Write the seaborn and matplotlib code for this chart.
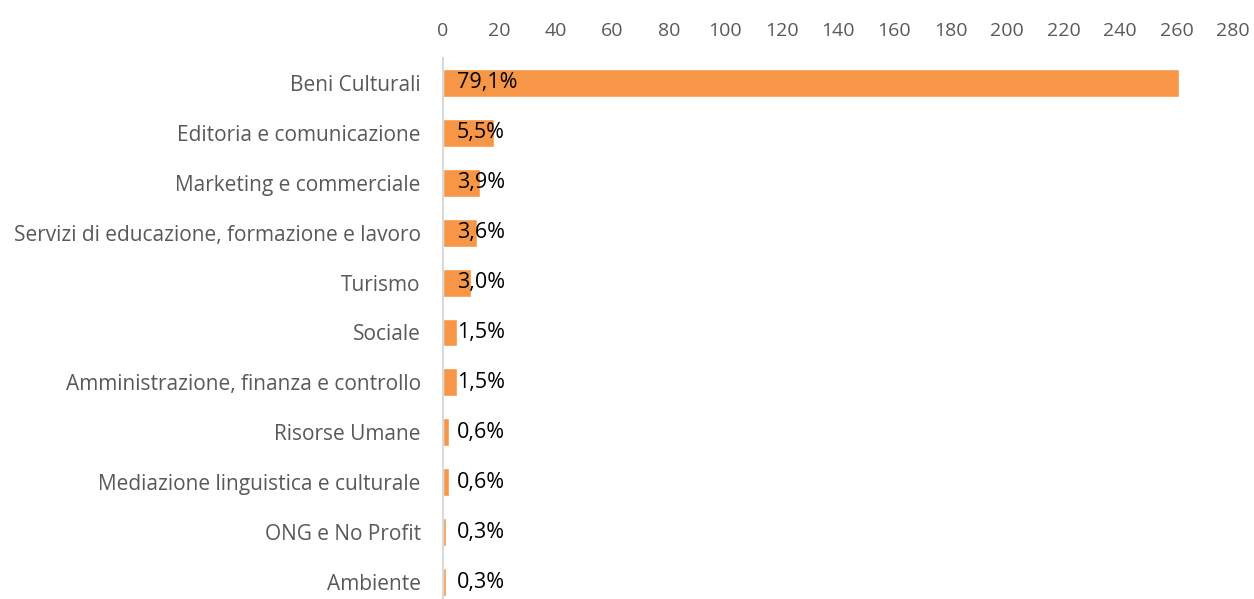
import matplotlib
matplotlib.use("Agg")
import matplotlib.pyplot as plt
import seaborn as sns
import pandas as pd

# data (counts, total 330)
categories = ["Beni Culturali", "Editoria e comunicazione", "Marketing e commerciale",
              "Servizi di educazione, formazione e lavoro", "Turismo", "Sociale",
              "Amministrazione, finanza e controllo", "Risorse Umane",
              "Mediazione linguistica e culturale", "ONG e No Profit", "Ambiente"]
counts = [261, 18, 13, 12, 10, 5, 5, 2, 2, 1, 1]
labels = ["79,1%", "5,5%", "3,9%", "3,6%", "3,0%", "1,5%", "1,5%", "0,6%", "0,6%", "0,3%", "0,3%"]

df = pd.DataFrame({"cat": categories, "n": counts})

sns.set_style("white")
plt.rcParams['font.family'] = ['Open Sans', 'DejaVu Sans']

fig = plt.figure(figsize=(12.54, 5.99), dpi=100)
ax = fig.add_axes([443/1254, 0, 790/1254, 541/599])

sns.barplot(data=df, x="n", y="cat", color="#F79646", saturation=1, width=0.56, ax=ax)

# percentage labels at the base of each bar
for i, lab in enumerate(labels):
    ax.text(5, i, lab, va="center", ha="left", fontsize=15.5, color="black")

ax.set_xlim(0, 280)
ax.set_ylim(10.34, -0.5)
ax.set_xticks(range(0, 281, 20))
ax.xaxis.tick_top()
ax.tick_params(axis="x", length=0, labelsize=14, labelcolor="#595959", pad=13)
ax.tick_params(axis="y", length=0, labelsize=15, labelcolor="#595959", pad=16)
ax.set_xlabel("")
ax.set_ylabel("")
for s in ["top", "right", "bottom"]:
    ax.spines[s].set_visible(False)
ax.spines["left"].set_color("#D9D9D9")
ax.spines["left"].set_linewidth(1.5)

fig.savefig("out.png", dpi=100)
